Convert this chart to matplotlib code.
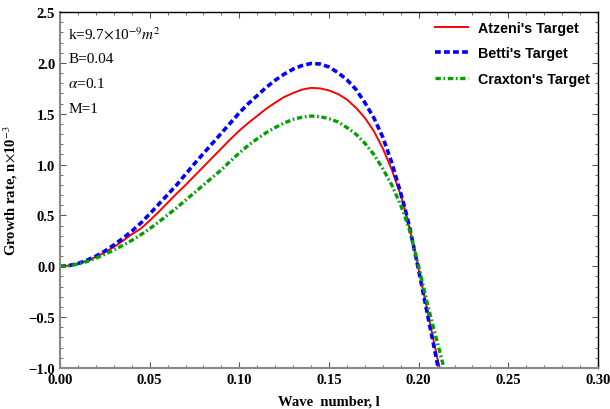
import matplotlib
matplotlib.use("Agg")
import matplotlib.pyplot as plt
from matplotlib.ticker import MultipleLocator, FuncFormatter

# ---------------------------------------------------------------------------
# Data
# ---------------------------------------------------------------------------

wave_number = [0.000, 0.005, 0.010, 0.015, 0.020, 0.025, 0.030, 0.035, 0.040,
               0.045, 0.050, 0.055, 0.060, 0.065, 0.070, 0.075, 0.080, 0.085,
               0.090, 0.095, 0.100, 0.105, 0.110, 0.115, 0.120, 0.125, 0.130,
               0.135, 0.140, 0.145, 0.150, 0.155, 0.160, 0.165, 0.170, 0.175,
               0.180, 0.185, 0.190, 0.1925, 0.195, 0.1975, 0.200, 0.2025,
               0.205, 0.2075, 0.210, 0.2125, 0.215]

atzeni = [0.0, 0.007, 0.026, 0.055, 0.092, 0.138, 0.19, 0.25, 0.315,
          0.37, 0.45, 0.535, 0.625, 0.715, 0.80, 0.89, 0.98, 1.07,
          1.16, 1.25, 1.335, 1.41, 1.48, 1.55, 1.61, 1.665, 1.705,
          1.738, 1.755, 1.75, 1.73, 1.695, 1.64, 1.56, 1.46, 1.33,
          1.16, 0.95, 0.70, 0.55, 0.37, 0.17, -0.03, -0.24,
          -0.45, -0.66, -0.87, -1.06, -1.26]

betti = [0.0, 0.008, 0.028, 0.060, 0.10, 0.15, 0.21, 0.275, 0.345,
         0.425, 0.515, 0.61, 0.705, 0.80, 0.905, 1.01, 1.11, 1.21,
         1.31, 1.41, 1.51, 1.60, 1.68, 1.76, 1.83, 1.89, 1.94,
         1.975, 1.995, 1.99, 1.96, 1.905, 1.835, 1.74, 1.61, 1.46,
         1.27, 1.02, 0.72, 0.56, 0.38, 0.17, -0.04, -0.26,
         -0.48, -0.70, -0.92, -1.14, -1.36]

craxton = [0.0, 0.006, 0.022, 0.047, 0.08, 0.118, 0.16, 0.206, 0.255,
           0.31, 0.37, 0.435, 0.505, 0.575, 0.65, 0.725, 0.80, 0.875,
           0.95, 1.035, 1.115, 1.19, 1.255, 1.315, 1.365, 1.41, 1.445,
           1.467, 1.478, 1.472, 1.452, 1.42, 1.365, 1.30, 1.21, 1.10,
           0.96, 0.80, 0.60, 0.48, 0.35, 0.18, 0.0, -0.19,
           -0.38, -0.55, -0.72, -0.89, -1.06]

series_labels = ["Atzeni's Target", "Betti's Target", "Craxton's Target"]
params_text = [r"k=9.7$\times$10$^{-9}$$m^2$", "B=0.04", r"$\alpha$=0.1", "M=1"]

x_ticks = [0.00, 0.05, 0.10, 0.15, 0.20, 0.25, 0.30]
y_ticks = [-1.0, -0.5, 0.0, 0.5, 1.0, 1.5, 2.0, 2.5]

SERIF = ["Liberation Serif", "DejaVu Serif"]
SANS = ["Liberation Sans", "DejaVu Sans"]


def main() -> None:
    plt.rcParams["mathtext.fontset"] = "stix"
    fig = plt.figure(figsize=(6.1, 4.1), dpi=100)
    ax = fig.add_axes([0.0984, 0.100, 0.8819, 0.868])

    ax.plot(wave_number, atzeni, color="#ff0000", lw=1.4, label=series_labels[0])
    ax.plot(wave_number, betti, color="#0000ff", lw=2.6, dashes=(1.6, 0.9),
            label=series_labels[1])
    ax.plot(wave_number, craxton, color="#00a000", lw=2.4,
            dashes=(1.6, 0.8, 0.5, 0.8), label=series_labels[2])

    ax.set_xlim(0, 0.30)
    ax.set_ylim(-1.0, 2.5)
    ax.set_xticks(x_ticks)
    ax.set_yticks(y_ticks)
    ax.xaxis.set_major_formatter(FuncFormatter(lambda v, p: f"{v:.2f}"))
    ax.yaxis.set_major_formatter(
        FuncFormatter(lambda v, p: ("\u2212" if v < 0 else "") + f"{abs(v):.1f}"))
    ax.xaxis.set_minor_locator(MultipleLocator(0.01))
    ax.yaxis.set_minor_locator(MultipleLocator(0.1))
    ax.tick_params(which="both", direction="in", top=True, right=True, colors="#555555")
    ax.tick_params(which="major", length=4, width=0.8)
    ax.tick_params(which="minor", length=2, width=0.6)

    for lab in ax.get_xticklabels() + ax.get_yticklabels():
        lab.set_family(SERIF)
        lab.set_fontweight("bold")
        lab.set_fontsize(10.5)
        lab.set_color("black")

    for side in ("left", "bottom"):
        ax.spines[side].set_color("#888888")
        ax.spines[side].set_linewidth(1.5)
    for side in ("top", "right"):
        ax.spines[side].set_color("black")
        ax.spines[side].set_linewidth(1.0)

    ax.set_xlabel("Wave  number, l", family=SERIF, fontweight="bold", fontsize=10.5,
                  labelpad=6)
    ax.set_ylabel(r"Growth rate, n$\times$10$^{-3}$", family=SERIF, fontweight="bold",
                  fontsize=10.5, labelpad=6)

    # parameter annotations, top-left
    for i, t in enumerate(params_text):
        ax.text(0.015, 0.941 - i * 0.0705, t, transform=ax.transAxes, family=SERIF,
                fontsize=11, va="center", ha="left")

    ax.legend(loc="upper right", frameon=False, handlelength=2.3, handletextpad=0.7,
              prop={"family": SANS, "weight": "bold", "size": 10.3},
              borderaxespad=0.2, labelspacing=0.8)

    fig.savefig("out.png", dpi=100)
    plt.close(fig)


if __name__ == "__main__":
    main()
